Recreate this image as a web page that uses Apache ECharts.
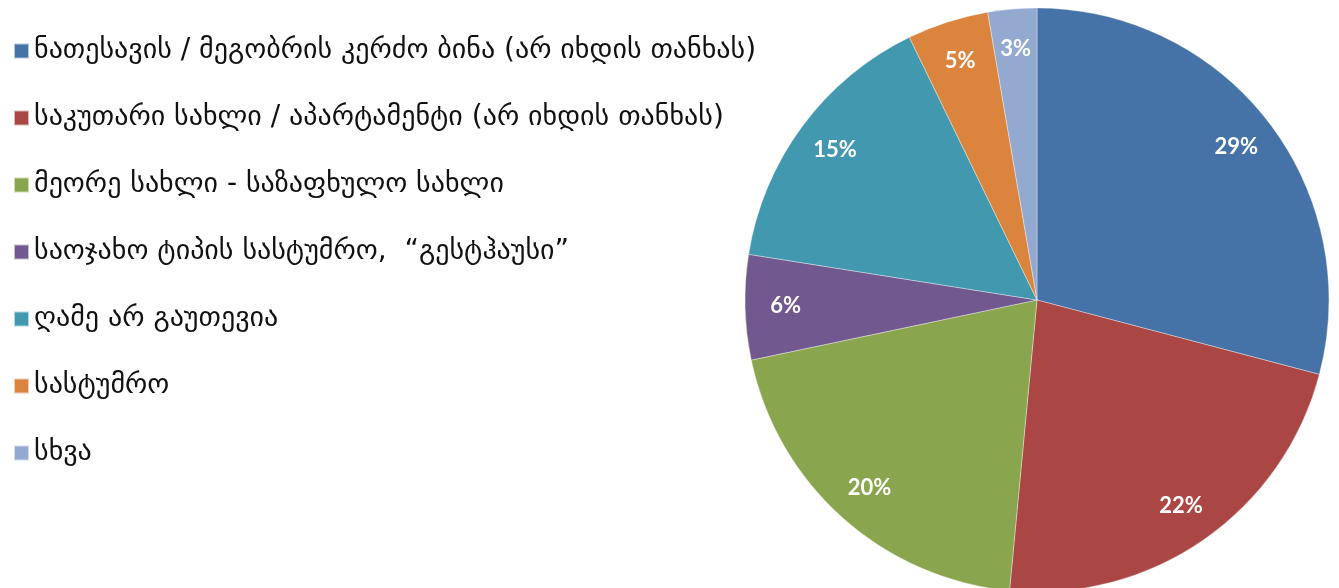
<!DOCTYPE html>
<html>
<head>
<meta charset="utf-8">
<script src="https://cdn.jsdelivr.net/npm/echarts@6/dist/echarts.min.js"></script>
<style>
  html, body { margin: 0; padding: 0; background: #fff; }
  #chartBox { width: 1339px; height: 588px; }
</style>
</head>
<body>
<div id="chartBox"></div>
<script>
  // categories (legend order) and shares
  var categories = [
    'ნათესავის / მეგობრის კერძო ბინა (არ იხდის თანხას)',
    'საკუთარი სახლი / აპარტამენტი (არ იხდის თანხას)',
    'მეორე სახლი - საზაფხულო სახლი',
    'საოჯახო ტიპის სასტუმრო,  “გესტჰაუსი”',
    'ღამე არ გაუთევია',
    'სასტუმრო',
    'სხვა'
  ];
  var shares = [29.1, 22.4, 20.2, 5.8, 15.3, 4.5, 2.7];
  var colors = ['#4572A7', '#AA4643', '#89A54E', '#71588F', '#4198AF', '#DB843D', '#93A9CF'];

  var pieData = categories.map(function (name, i) {
    return { name: name, value: shares[i] };
  });

  var myChart = echarts.init(document.getElementById('chartBox'));
  var option = {
    animation: false,
    color: colors,
    legend: {
      orient: 'vertical',
      left: 8,
      top: 32,
      itemWidth: 15,
      itemHeight: 15,
      itemGap: 39,
      icon: 'rect',
      selectedMode: false,
      textStyle: {
        fontFamily: 'DejaVu Sans',
        fontSize: 28,
        color: '#111',
        lineHeight: 28
      },
      data: categories
    },
    series: [
      {
        type: 'pie',
        center: [1037, 300],
        radius: 292,
        startAngle: 90,
        clockwise: true,
        silent: true,
        label: { show: false },
        labelLine: { show: false },
        itemStyle: { borderColor: 'rgba(255,255,255,0.6)', borderWidth: 0.6 },
        data: pieData
      },
      {
        // transparent ring only used to place the percent labels near the rim
        type: 'pie',
        center: [1037, 300],
        radius: [205, 292],
        startAngle: 90,
        clockwise: true,
        silent: true,
        legendHoverLink: false,
        itemStyle: { color: 'rgba(0,0,0,0)' },
        label: {
          show: true,
          position: 'inside',
          color: '#fff',
          fontFamily: 'Lato',
          fontWeight: 'bold',
          fontSize: 22,
          formatter: function (p) { return Math.round(p.value) + '%'; }
        },
        labelLine: { show: false },
        data: pieData
      }
    ]
  };
  myChart.setOption(option);
</script>
</body>
</html>
